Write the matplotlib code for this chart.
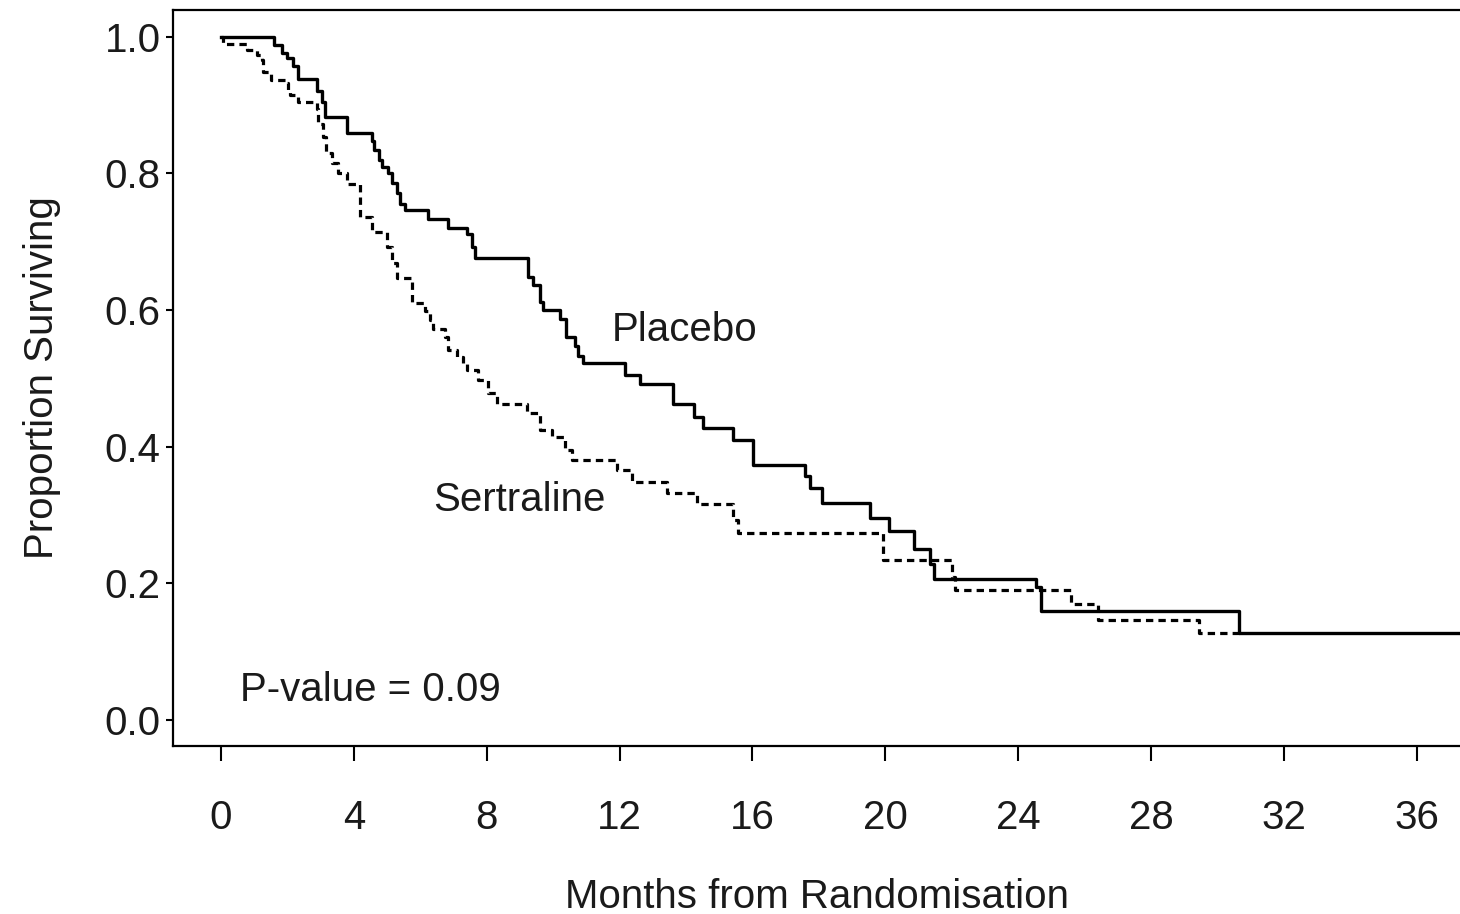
import matplotlib
matplotlib.use("Agg")
import matplotlib.pyplot as plt

plt.rcParams['font.family'] = ['Liberation Sans', 'DejaVu Sans']

# Kaplan-Meier step data: (time of drop in months, survival after drop)
placebo_time = [0, 1.60, 1.83, 2.00, 2.18, 2.33, 2.88, 3.03, 3.13, 3.78, 4.54, 4.62, 4.75,
                4.85, 5.04, 5.14, 5.29, 5.39, 5.54, 6.24, 6.84, 7.40, 7.55, 7.65, 9.25,
                9.40, 9.60, 9.70, 10.20, 10.40, 10.66, 10.76, 10.90, 12.16, 12.61, 13.60,
                14.24, 14.52, 15.40, 16.03, 17.58, 17.73, 18.08, 19.53, 20.12, 20.87,
                21.34, 21.45, 24.55, 24.70, 30.66, 37.50]
placebo_surv = [1.0, 0.988, 0.976, 0.969, 0.957, 0.938, 0.920, 0.905, 0.883, 0.859, 0.847,
                0.835, 0.820, 0.810, 0.800, 0.786, 0.771, 0.756, 0.747, 0.734, 0.720, 0.712,
                0.693, 0.676, 0.649, 0.637, 0.612, 0.600, 0.587, 0.561, 0.547, 0.533, 0.522,
                0.505, 0.492, 0.463, 0.444, 0.428, 0.410, 0.373, 0.357, 0.340, 0.317, 0.295,
                0.276, 0.250, 0.228, 0.206, 0.195, 0.160, 0.127, 0.127]

sertraline_time = [0, 0.05, 0.77, 1.07, 1.22, 1.27, 1.52, 1.98, 2.03, 2.08, 2.33, 2.88, 2.93,
                   3.08, 3.16, 3.33, 3.53, 3.78, 4.18, 4.54, 4.99, 5.14, 5.29, 5.74, 6.14,
                   6.29, 6.39, 6.74, 6.84, 7.09, 7.29, 7.40, 7.75, 8.05, 8.30, 9.20, 9.60,
                   9.95, 10.36, 10.56, 11.93, 12.36, 13.42, 14.32, 15.42, 15.55, 19.92,
                   22.00, 22.10, 25.60, 26.41, 29.45, 30.66]
sertraline_surv = [1.0, 0.990, 0.981, 0.974, 0.966, 0.949, 0.937, 0.932, 0.922, 0.915, 0.905,
                   0.895, 0.873, 0.854, 0.830, 0.815, 0.800, 0.785, 0.737, 0.715, 0.693,
                   0.669, 0.647, 0.610, 0.598, 0.586, 0.573, 0.561, 0.542, 0.532, 0.522,
                   0.512, 0.498, 0.478, 0.463, 0.450, 0.425, 0.415, 0.395, 0.381, 0.366,
                   0.349, 0.332, 0.316, 0.293, 0.274, 0.234, 0.210, 0.190, 0.170, 0.147,
                   0.127, 0.127]

x_ticks = [0, 4, 8, 12, 16, 20, 24, 28, 32, 36]
y_ticks = [0.0, 0.2, 0.4, 0.6, 0.8, 1.0]
y_tick_labels = ["0.0", "0.2", "0.4", "0.6", "0.8", "1.0"]

fig = plt.figure(figsize=(14.6, 9.14), dpi=100)
ax = fig.add_axes([0.1185, 0.1838, 0.8815, 0.8058])

ax.step(sertraline_time, sertraline_surv, where='post', color='black', lw=2.3,
        linestyle=(0, (2.3, 1.6)), zorder=2)
ax.step(placebo_time, placebo_surv, where='post', color='black', lw=2.4, zorder=3)

ax.set_xlim(-1.445, 37.30)
ax.set_ylim(-0.038, 1.040)

ax.set_xticks(x_ticks)
ax.set_xticklabels([str(v) for v in x_ticks])
ax.set_yticks(y_ticks)
ax.set_yticklabels(y_tick_labels)

ax.tick_params(axis='x', length=11, width=1.5, pad=27, labelsize=29, colors='black')
ax.tick_params(axis='y', length=5, width=1.5, pad=4, labelsize=29, colors='black')
for lab in ax.get_xticklabels() + ax.get_yticklabels():
    lab.set_color('#1a1a1a')

for side in ['left', 'bottom', 'top']:
    ax.spines[side].set_linewidth(1.6)
ax.spines['right'].set_visible(False)

ax.set_xlabel("Months from Randomisation", fontsize=29, color='#1a1a1a', labelpad=30)
ax.set_ylabel("Proportion Surviving", fontsize=29, color='#1a1a1a', labelpad=31)

ax.text(11.77, 0.571, "Placebo", fontsize=29, color='#1a1a1a', ha='left', va='center')
ax.text(6.38, 0.322, "Sertraline", fontsize=29, color='#1a1a1a', ha='left', va='center')
ax.text(0.57, 0.044, "P-value = 0.09", fontsize=29, color='#1a1a1a', ha='left', va='center')

fig.savefig("out.png", dpi=100)
